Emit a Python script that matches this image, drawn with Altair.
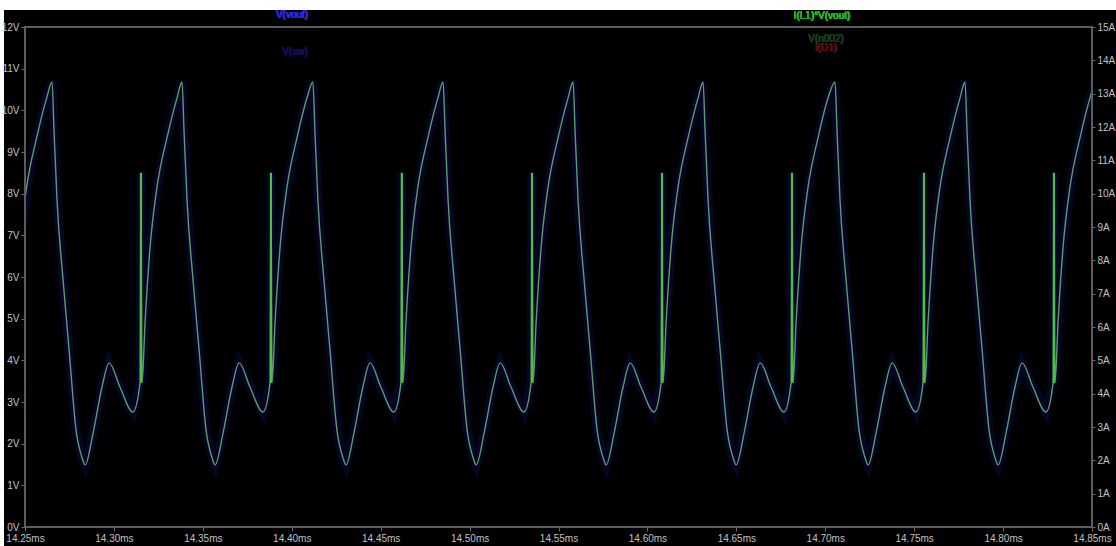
import altair as alt
import pandas as pd

# ---- data ----
# times (ms) of the waveform peaks, one per switching cycle
peak_ms = [14.1919, 14.2652, 14.3383, 14.4119, 14.4851, 14.5582,
           14.6313, 14.7055, 14.7786, 14.8519]
# shape of one cycle: offset from its peak (microseconds) and level (V)
shape_us = [0, 1.1, 2.8, 6.2, 9.6, 13.5, 16.9, 18.6, 23.1, 28.1, 32.1,
            38.2, 45.5, 49.5, 50.0, 50.6, 52.3, 55.1, 59.0, 64.7, 70.3]
shape_v = [10.68, 9.53, 7.85, 5.93, 4.25, 2.33, 1.66, 1.49, 2.26, 3.36, 3.94,
           3.36, 2.76, 3.46, 8.50, 3.46, 4.90, 6.70, 8.15, 9.35, 10.30]
# the green ringing spike in each cycle
spike_us = 50.0
spike_low_v = 3.46
spike_high_v = 8.50

x_ticks = [14.25, 14.30, 14.35, 14.40, 14.45, 14.50, 14.55,
           14.60, 14.65, 14.70, 14.75, 14.80, 14.85]
left_ticks = [0, 1, 2, 3, 4, 5, 6, 7, 8, 9, 10, 11, 12]
right_ticks = [0, 1, 2, 3, 4, 5, 6, 7, 8, 9, 10, 11, 12, 13, 14, 15]

legend_labels = ["V(vout)", "I(L1)*V(vout)", "V(sw)", "I(D1)", "V(n002)"]
legend_colors = ["#2a2ad8", "#22b022", "#12125a", "#5a1010", "#1a3a1a"]

# ---- tables built from the arrays ----
rows = []
i = 0
for p in peak_ms:
    for o, v in zip(shape_us, shape_v):
        rows.append({"t": p + o / 1000.0, "v": v, "i": i})
        i += 1
wave = pd.DataFrame(rows)
spikes = pd.DataFrame({"t": [p + spike_us / 1000.0 for p in peak_ms],
                       "v": [spike_low_v] * len(peak_ms),
                       "v2": [spike_high_v] * len(peak_ms)})
right_df = pd.DataFrame({"a": right_ticks})

W, H = 1067, 500
FONT = "Liberation Sans"
LABEL = "#c0c0c0"
GRAY = "#5c5c5c"

xscale = alt.Scale(domain=[14.25, 14.85], nice=False, zero=False)
yscale = alt.Scale(domain=[0, 12], nice=False, zero=False)

common = dict(domain=False, grid=False, tickColor="#6a6a6a", labelColor=LABEL,
              labelFont=FONT, labelFontSize=10, title=None, labelFlush=False,
              zindex=2)
xaxis = alt.Axis(values=x_ticks, labelExpr="format(datum.value, '.2f') + 'ms'",
                 tickSize=4, labelPadding=2, **common)
yaxis = alt.Axis(values=left_ticks, labelExpr="datum.value + 'V'",
                 tickSize=4, labelPadding=2, **common)
raxis = alt.Axis(values=right_ticks, labelExpr="datum.value + 'A'", orient="right",
                 tickSize=3, labelPadding=2, **common)

bg = alt.Chart(right_df).mark_rect(color="black", clip=False).encode(
    x=alt.value(-21), x2=alt.value(W + 24), y=alt.value(-17), y2=alt.value(H + 19))

box = alt.Chart(right_df).mark_rect(fillOpacity=0, stroke=GRAY, strokeWidth=2,
                                    clip=False).encode(
    x=alt.value(0), x2=alt.value(W), y=alt.value(0), y2=alt.value(H))

halo = alt.Chart(wave).mark_line(color="#0c0c48", strokeWidth=9, opacity=0.5,
                                 clip=True).encode(
    x=alt.X("t:Q", scale=xscale, axis=xaxis),
    y=alt.Y("v:Q", scale=yscale, axis=yaxis),
    order="i:Q")
line = alt.Chart(wave).mark_line(color="#5c9c6a", strokeWidth=1.4,
                                 clip=True, interpolate="monotone").encode(
    x=alt.X("t:Q", scale=xscale),
    y=alt.Y("v:Q", scale=yscale),
    order="i:Q")
spk = alt.Chart(spikes).mark_rule(color="#4cc040", strokeWidth=2.2,
                                  clip=True).encode(
    x=alt.X("t:Q", scale=xscale),
    y=alt.Y("v:Q", scale=yscale),
    y2="v2:Q")
left = alt.layer(halo, line, spk)

right = alt.Chart(right_df).mark_point(opacity=0).encode(
    x=alt.value(0),
    y=alt.Y("a:Q", scale=alt.Scale(domain=[0, 15], nice=False, zero=False), axis=raxis))

pos = [(267, -12), (797, -11), (270, 25), (801, 21), (801, 12)]
texts = []
for lab, col, (px, py) in zip(legend_labels, legend_colors, pos):
    texts.append(alt.Chart(right_df).mark_text(font=FONT, fontSize=10, align="center",
                                               baseline="middle", color=col).encode(
        x=alt.value(px), y=alt.value(py), text=alt.value(lab)))

chart = alt.layer(bg, left, box, right, *texts).resolve_scale(y="independent").properties(
    width=W, height=H,
    padding={"left": 25, "top": 27, "right": 24, "bottom": 19},
    autosize=alt.AutoSizeParams(type="none"),
    background="white",
).configure_view(fill="black", stroke=None)

chart.save("out.html", embed_options={"renderer": "svg", "actions": False})
